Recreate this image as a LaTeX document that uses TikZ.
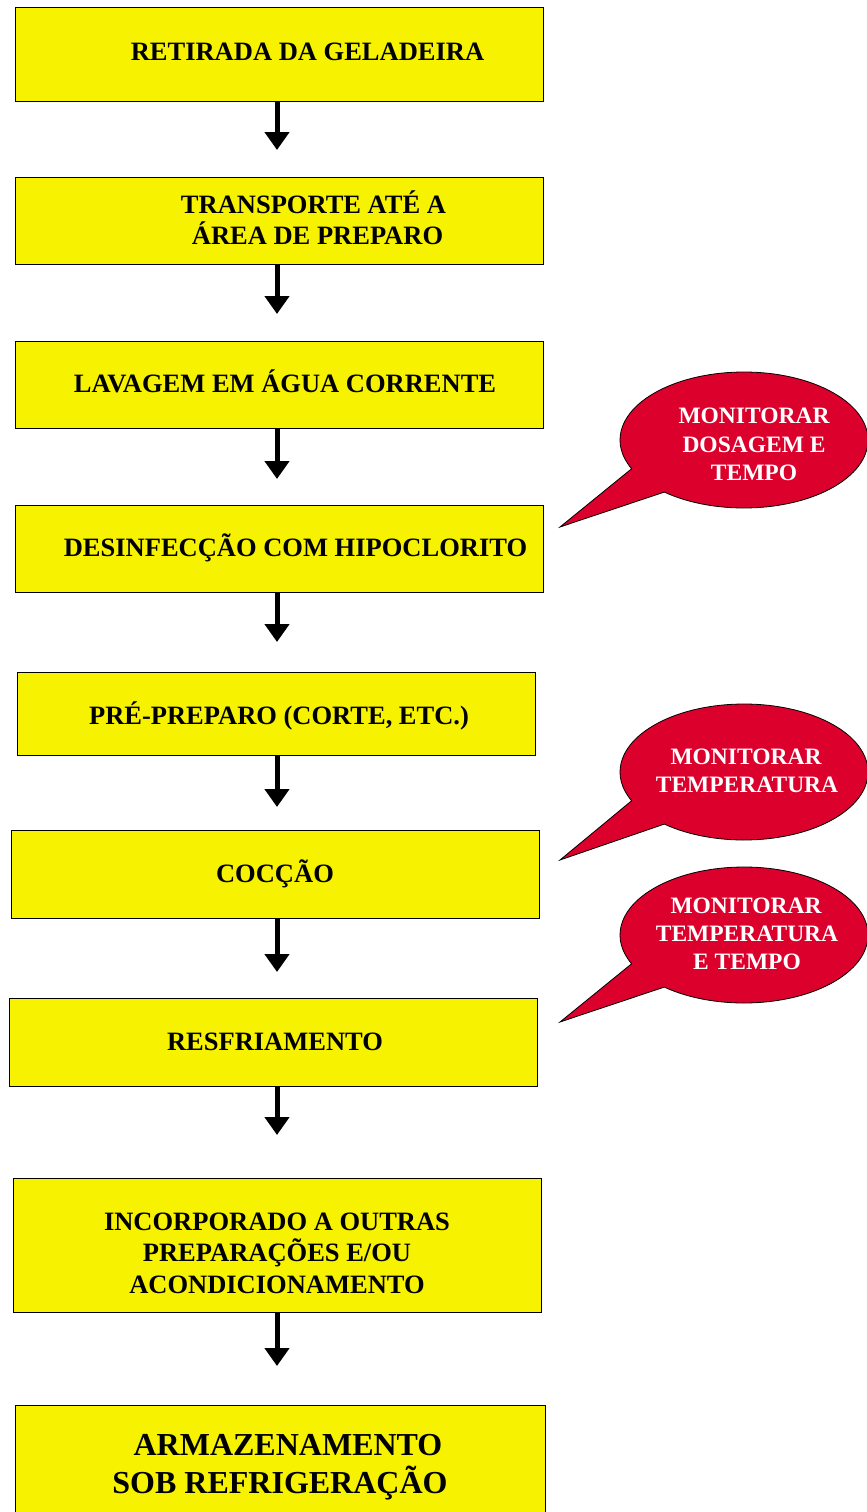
\documentclass[tikz,border=0pt]{standalone}
\usepackage{fontspec}
\setmainfont{Liberation Serif}
\usetikzlibrary{arrows.meta}
\definecolor{boxyellow}{RGB}{247,242,0}
\definecolor{callred}{RGB}{220,0,44}
\begin{document}
\begin{tikzpicture}[x=1pt,y=-1pt,
  stepbox/.style={draw=black, line width=1pt, fill=boxyellow, rectangle, inner sep=0pt},
  boxtxt/.style={anchor=base, inner sep=0pt, font=\fontsize{26.5}{31}\selectfont\bfseries},
  bigtxt/.style={anchor=base, inner sep=0pt, font=\fontsize{32}{38}\selectfont\bfseries},
  calltxt/.style={anchor=base, inner sep=0pt, text=white, font=\fontsize{23.5}{28}\selectfont\bfseries},
  arr/.style={line width=5pt, -{Triangle[width=24pt,length=18pt]}},
  callout/.style={draw=black, line width=0.8pt, fill=callred}]
\useasboundingbox (0,0) rectangle (867,1512);
\clip (0,0) rectangle (867,1512);

% boxes
\node[stepbox, minimum width=528pt, minimum height=93pt] (b1) at (279,54.5) {};
\node[stepbox, minimum width=528pt, minimum height=87pt] (b2) at (279,220.5) {};
\node[stepbox, minimum width=528pt, minimum height=87pt] (b3) at (279,384.5) {};
\node[stepbox, minimum width=528pt, minimum height=87pt] (b4) at (279,548.5) {};
\node[stepbox, minimum width=518pt, minimum height=83pt] (b5) at (276,713.5) {};
\node[stepbox, minimum width=528pt, minimum height=88pt] (b6) at (275,874) {};
\node[stepbox, minimum width=528pt, minimum height=88pt] (b7) at (273,1042) {};
\node[stepbox, minimum width=528pt, minimum height=134pt] (b8) at (277,1245) {};
\node[stepbox, minimum width=530pt, minimum height=125pt] (b9) at (280,1467.5) {};

% texts
\node[boxtxt] (t1) at (307.5,61) {RETIRADA DA GELADEIRA};
\node[boxtxt] (t2a) at (313.5,213) {TRANSPORTE ATÉ A};
\node[boxtxt] (t2b) at (317.5,244) {ÁREA DE PREPARO};
\node[boxtxt] (t3) at (285,392) {LAVAGEM EM ÁGUA CORRENTE};
\node[boxtxt] (t4) at (295.5,556) {DESINFECÇÃO COM HIPOCLORITO};
\node[boxtxt] (t5) at (279,724) {PRÉ-PREPARO (CORTE, ETC.)};
\node[boxtxt] (t6) at (275,882) {COCÇÃO};
\node[boxtxt] (t7) at (275,1050) {RESFRIAMENTO};
\node[boxtxt] (t8a) at (277,1230) {INCORPORADO A OUTRAS};
\node[boxtxt] (t8b) at (277,1261) {PREPARAÇÕES E/OU};
\node[boxtxt] (t8c) at (277,1293) {ACONDICIONAMENTO};
\node[bigtxt] (t9a) at (288,1455) {ARMAZENAMENTO};
\node[bigtxt] (t9b) at (280,1493) {SOB REFRIGERAÇÃO};

% arrows
\coordinate (a1) at (277,150);
\coordinate (a2) at (277,314);
\coordinate (a3) at (277,479);
\coordinate (a4) at (277,642);
\coordinate (a5) at (277,807);
\coordinate (a6) at (277,972);
\coordinate (a7) at (277,1135);
\coordinate (a8) at (277,1366);
\draw[arr] (a1 |- b1.south) -- (a1);
\draw[arr] (a2 |- b2.south) -- (a2);
\draw[arr] (a3 |- b3.south) -- (a3);
\draw[arr] (a4 |- b4.south) -- (a4);
\draw[arr] (a5 |- b5.south) -- (a5);
\draw[arr] (a6 |- b6.south) -- (a6);
\draw[arr] (a7 |- b7.south) -- (a7);
\draw[arr] (a8 |- b8.south) -- (a8);

% callouts
\coordinate (p1) at (560,527);
\coordinate (p2) at (560,860);
\coordinate (p3) at (560,1022);
\draw[callout] (744,440) ++(130:124 and 68) arc[start angle=130, end angle=-205, x radius=124, y radius=68] -- (p1) -- cycle;
\draw[callout] (744,772) ++(130:124 and 68) arc[start angle=130, end angle=-205, x radius=124, y radius=68] -- (p2) -- cycle;
\draw[callout] (744,935) ++(130:124 and 68) arc[start angle=130, end angle=-205, x radius=124, y radius=68] -- (p3) -- cycle;

\node[calltxt] (c1a) at (754,423) {MONITORAR};
\node[calltxt] (c1b) at (754,452) {DOSAGEM E};
\node[calltxt] (c1c) at (754,480) {TEMPO};
\node[calltxt] (c2a) at (746,764) {MONITORAR};
\node[calltxt] (c2b) at (747,792) {TEMPERATURA};
\node[calltxt] (c3a) at (746,913) {MONITORAR};
\node[calltxt] (c3b) at (747,941) {TEMPERATURA};
\node[calltxt] (c3c) at (747,969) {E TEMPO};
\end{tikzpicture}
\end{document}
